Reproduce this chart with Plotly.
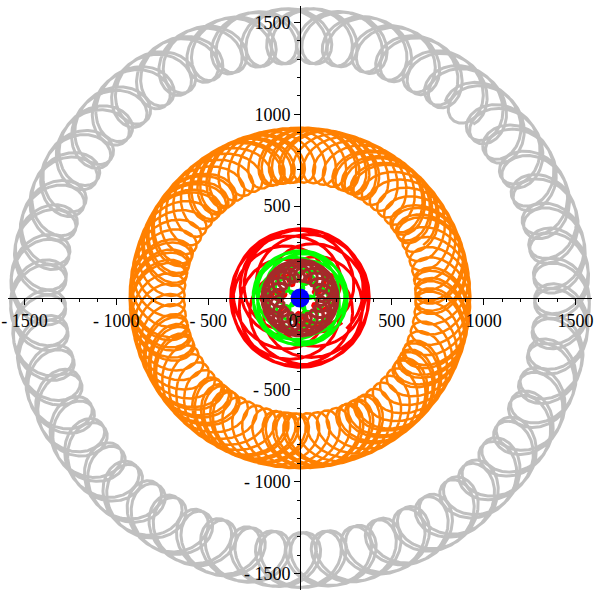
import numpy as np
import plotly.graph_objects as go

# orbits seen from the Earth, units of 10^6 km
PLANETS = ["Saturn", "Jupiter", "Mars", "Venus", "Mercury"]
RADII = [1427.0, 778.0, 228.0, 108.0, 58.0]
PERIODS = [10759.0, 4333.0, 687.0, 224.7, 88.0]  # days
PHASES = [50.0, 34.0, 355.0, 182.0, 252.0]  # degrees at t=0
SPANS = [43000, 43000, 6200, 2922, 2557]  # days plotted
COLORS = ["#c0c0c0", "#ff8000", "#ff0000", "#00ff00", "#a52a2a"]
WIDTHS = [3, 2.5, 3, 3, 3]

EARTH_RADIUS = 149.6
EARTH_PERIOD = 365.25
EARTH_PHASE = 100.0
STEP_DAYS = 2

XTICKS = [-1500, -1000, -500, 0, 500, 1000, 1500]
XTICKTEXT = ["- 1500", "- 1000", "- 500", "0&nbsp;&nbsp;&nbsp;", "500", "1000", "1500"]
YTICKS = [-1500, -1000, -500, 500, 1000, 1500]
YTICKTEXT = ["- 1500", "- 1000", "- 500", "500", "1000", "1500"]

fig = go.Figure()
for name, r, p, ph, span, c, w in zip(PLANETS, RADII, PERIODS, PHASES, SPANS, COLORS, WIDTHS):
    t = np.arange(0, span + STEP_DAYS, STEP_DAYS, dtype=float)
    ea = np.radians(EARTH_PHASE) + 2 * np.pi * t / EARTH_PERIOD
    a = np.radians(ph) + 2 * np.pi * t / p
    x = np.round(r * np.cos(a) - EARTH_RADIUS * np.cos(ea), 1)
    y = np.round(r * np.sin(a) - EARTH_RADIUS * np.sin(ea), 1)
    fig.add_trace(go.Scatter(x=x, y=y, mode="lines", name=name,
                             line=dict(color=c, width=w), hoverinfo="skip"))

fig.add_trace(go.Scatter(x=[0], y=[0], mode="markers", name="Earth",
                         marker=dict(color="#0000ff", size=19)))

axis_common = dict(anchor="free", position=0.5,
                   showgrid=False, zeroline=False, showline=True,
                   linecolor="black", linewidth=1,
                   ticks="outside", ticklen=6, tickcolor="black",
                   tickfont=dict(family="Liberation Serif", size=18, color="black"),
                   ticklabeloverflow="allow",
                   minor=dict(ticks="outside", ticklen=3, dtick=100, tick0=0,
                              tickcolor="black", showgrid=False),
                   automargin=False, fixedrange=True)

fig.update_layout(
    width=596, height=596,
    margin=dict(l=8, r=4, t=6, b=6),
    plot_bgcolor="white", paper_bgcolor="white",
    showlegend=False,
    xaxis=dict(axis_common, range=[-1590, 1590], tickmode="array",
               tickvals=XTICKS, ticktext=XTICKTEXT),
    yaxis=dict(axis_common, range=[-1590, 1590], tickmode="array",
               tickvals=YTICKS, ticktext=YTICKTEXT),
)

# drop the default body margin so the figure fills the window exactly
fig.write_html("out.html", config={"displayModeBar": False},
               post_script="document.body.style.margin='0px';")
